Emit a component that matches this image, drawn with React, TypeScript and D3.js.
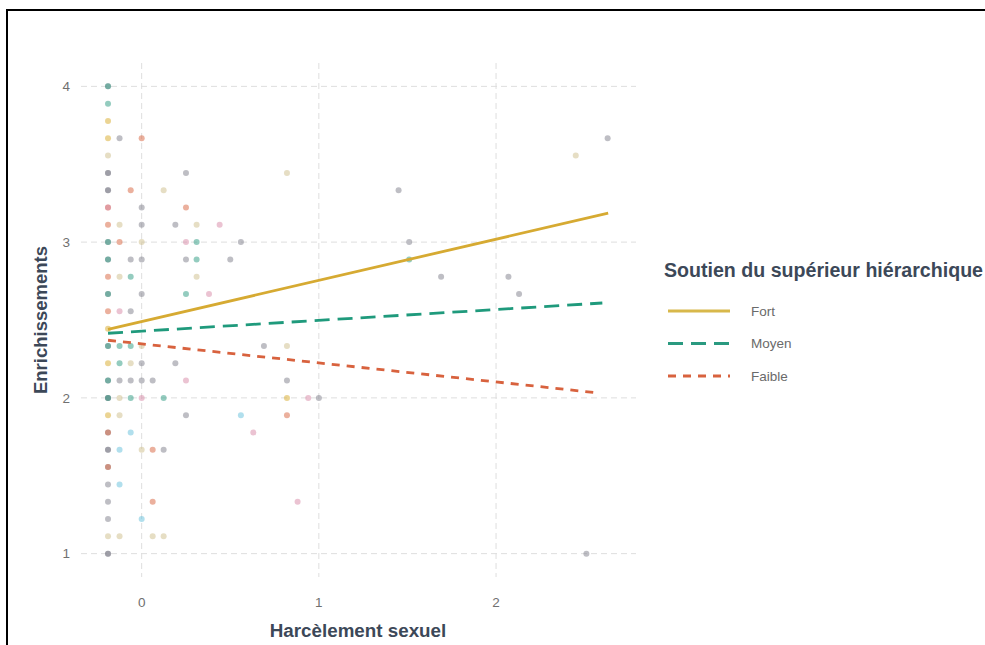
import React from 'react';
import * as d3 from 'd3';

const xTicks = [0, 1, 2];
const yTicks = [1, 2, 3, 4];
const xDomain = [-0.3425, 2.79];
const yDomain = [0.85, 4.15];

const legendGroups = ['Fort', 'Moyen', 'Faible'];
const legendTitle = 'Soutien du supérieur hiérarchique';
const xTitle = 'Harcèlement sexuel';
const yTitle = 'Enrichissements';

// regression lines (x, y) endpoints per group
const fortLine: [number, number][] = [[-0.19, 2.44], [2.633, 3.186]];
const moyenLine: [number, number][] = [[-0.19, 2.415], [2.6, 2.609]];
const faibleLine: [number, number][] = [[-0.19, 2.37], [2.576, 2.032]];

// observed points, by colour
const grayPts: [number, number][] = [
  [-0.19, 4.0], [-0.19, 3.444], [-0.19, 3.444], [-0.19, 3.333], [-0.19, 3.333], [-0.19, 3.0], [-0.19, 2.889],
  [-0.19, 2.667], [-0.19, 2.333], [-0.19, 2.111], [-0.19, 2.0], [-0.19, 2.0], [-0.19, 1.778], [-0.19, 1.667],
  [-0.19, 1.667], [-0.19, 1.556], [-0.19, 1.444], [-0.19, 1.333], [-0.19, 1.222], [-0.19, 1.0], [-0.19, 1.0],
  [-0.125, 3.667], [-0.125, 2.111], [-0.062, 2.889], [-0.062, 2.556], [-0.062, 2.111],
  [0, 3.222], [0, 3.111], [0, 2.889], [0, 2.667], [0, 2.222], [0, 2.111],
  [0.062, 2.111], [0.124, 1.667], [0.19, 3.111], [0.19, 2.222], [0.25, 3.444], [0.25, 2.889], [0.25, 1.889],
  [0.5, 2.889], [0.56, 3.0], [0.69, 2.333], [0.82, 2.111], [1.0, 2.0], [1.45, 3.333], [1.51, 3.0],
  [1.69, 2.778], [2.07, 2.778], [2.13, 2.667], [2.63, 3.667], [2.51, 1.0],
];
const tealPts: [number, number][] = [
  [-0.19, 4.0], [-0.19, 3.889], [-0.19, 3.0], [-0.19, 2.889], [-0.19, 2.667], [-0.19, 2.333], [-0.19, 2.111],
  [-0.19, 2.0], [-0.125, 2.333], [-0.125, 2.222], [-0.062, 2.778], [-0.062, 2.333], [-0.062, 2.0],
  [0.124, 2.0], [0.25, 2.667], [0.31, 3.0], [0.31, 2.889], [1.51, 2.889],
];
const goldPts: [number, number][] = [
  [-0.19, 3.778], [-0.19, 3.667], [-0.19, 2.444], [-0.19, 2.222], [-0.19, 1.889], [0.82, 2.0],
];
const coralPts: [number, number][] = [
  [-0.19, 3.222], [-0.19, 3.111], [-0.19, 2.778], [-0.19, 2.556], [-0.19, 1.778], [-0.19, 1.556],
  [-0.125, 3.0], [-0.062, 3.333], [0, 3.667], [0.062, 1.667], [0.062, 1.333], [0.25, 3.222], [0.82, 1.889],
];
const pinkPts: [number, number][] = [
  [-0.19, 3.222], [-0.125, 2.556], [0, 2.0], [0.25, 3.0], [0.25, 2.111], [0.38, 2.667], [0.44, 3.111],
  [0.63, 1.778], [0.88, 1.333], [0.94, 2.0],
];
const beigePts: [number, number][] = [
  [-0.19, 3.556], [-0.19, 1.111], [-0.125, 3.111], [-0.125, 2.778], [-0.125, 2.0], [-0.125, 1.889],
  [-0.125, 1.111], [-0.062, 2.222], [0, 3.0], [0, 2.333], [0, 1.667], [0.062, 1.111], [0.124, 3.333],
  [0.124, 1.111], [0.31, 3.111], [0.31, 2.778], [0.82, 3.444], [0.82, 2.333], [2.45, 3.556],
];
const bluePts: [number, number][] = [
  [-0.125, 1.667], [-0.125, 1.444], [-0.062, 1.778], [0, 1.222], [0.56, 1.889],
];

const pointSets = [
  { pts: grayPts, color: '#7d7d8a' },
  { pts: beigePts, color: '#cdbd8a' },
  { pts: bluePts, color: '#64bfdc' },
  { pts: tealPts, color: '#2a9a80' },
  { pts: goldPts, color: '#d8aa28' },
  { pts: coralPts, color: '#d8623c' },
  { pts: pinkPts, color: '#d888a6' },
];

const lineSets = [
  { pts: faibleLine, color: '#d8623e', dash: '8,7' },
  { pts: moyenLine, color: '#1f9a7c', dash: '15,8' },
  { pts: fortLine, color: '#d6aa32', dash: null as string | null },
];
const legendStyles = [
  { color: '#d8b84a', dash: null as string | null },
  { color: '#2a9a80', dash: '15,8' },
  { color: '#d8623e', dash: '8,7' },
];

export default function App() {
  const W = 985, H = 645;
  const x = d3.scaleLinear().domain(xDomain).range([81, 636]);
  const y = d3.scaleLinear().domain(yDomain).range([577, 63]);
  const line = d3.line<[number, number]>().x(d => x(d[0])).y(d => y(d[1]));
  const font = "'Liberation Sans', Arial, sans-serif";
  const titleColor = '#3c4858';
  return (
    <div style={{ position: 'fixed', left: 0, top: 0 }}>
      <svg width={W} height={H} style={{ display: 'block', background: '#fff' }} fontFamily={font}>
        <rect x={0} y={0} width={W} height={H} fill="#fff" />
        {/* grid */}
        {yTicks.map(t => (
          <line key={'gy' + t} x1={81} x2={636} y1={y(t)} y2={y(t)} stroke="#dedede" strokeWidth={1} strokeDasharray="6,4" />
        ))}
        {xTicks.map(t => (
          <line key={'gx' + t} x1={x(t)} x2={x(t)} y1={63} y2={577} stroke="#dedede" strokeWidth={1} strokeDasharray="6,4" />
        ))}
        {/* points */}
        {pointSets.map((s, i) => (
          <g key={'ps' + i}>
            {s.pts.map((p, j) => (
              <circle key={j} cx={x(p[0])} cy={y(p[1])} r={3} fill={s.color} fillOpacity={0.5} />
            ))}
          </g>
        ))}
        {/* lines */}
        {lineSets.map((l, i) => (
          <path key={'l' + i} d={line(l.pts) || ''} fill="none" stroke={l.color} strokeWidth={2.8}
            strokeDasharray={l.dash || undefined} />
        ))}
        {/* ticks */}
        {yTicks.map(t => (
          <text key={'ty' + t} x={70} y={y(t)} dy="0.35em" textAnchor="end" fontSize={13.5} fill="#707070">{t}</text>
        ))}
        {xTicks.map(t => (
          <text key={'tx' + t} x={x(t)} y={602} dy="0.35em" textAnchor="middle" fontSize={13.5} fill="#707070">{t}</text>
        ))}
        {/* axis titles */}
        <text x={358} y={637} textAnchor="middle" fontSize={18.8} fontWeight="bold" fill={titleColor}>{xTitle}</text>
        <text transform={`translate(47,320) rotate(-90)`} textAnchor="middle" fontSize={18.5} fontWeight="bold" fill={titleColor}>{yTitle}</text>
        {/* legend */}
        <text x={664} y={277} fontSize={19.6} fontWeight="bold" fill={titleColor}>{legendTitle}</text>
        {legendGroups.map((g, i) => (
          <g key={'lg' + g}>
            <line x1={668} x2={730} y1={311 + i * 32.5} y2={311 + i * 32.5} stroke={legendStyles[i].color}
              strokeWidth={2.8} strokeDasharray={legendStyles[i].dash || undefined} />
            <text x={751} y={311 + i * 32.5} dy="0.35em" fontSize={13.5} fill="#6a6a6a">{g}</text>
          </g>
        ))}
        {/* frame */}
        <line x1={7} x2={7} y1={9} y2={H} stroke="#000" strokeWidth={2} />
        <line x1={6} x2={W} y1={10} y2={10} stroke="#000" strokeWidth={2} />
      </svg>
    </div>
  );
}
